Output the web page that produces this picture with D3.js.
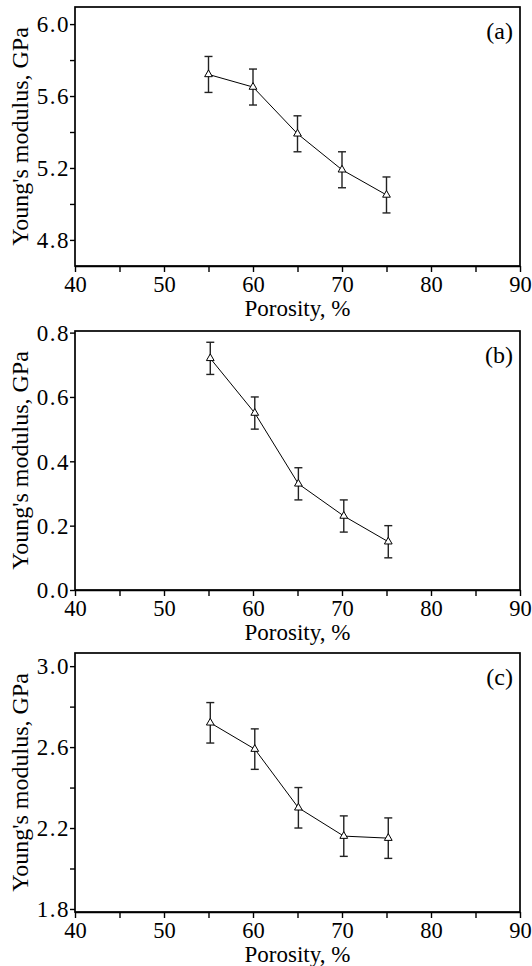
<!DOCTYPE html>
<html><head><meta charset="utf-8">
<script src="https://cdn.jsdelivr.net/npm/d3@7"></script>
<style>body{margin:0;background:#fff}svg{display:block}</style>
</head><body>
<svg id="c" width="532" height="966"></svg>
<script>
// ---- data ----
const porosity = [55, 60, 65, 70, 75];
const porosityB = [55.2, 60.2, 65.1, 70.2, 75.2];
const modulusA = [5.72, 5.65, 5.39, 5.19, 5.05];
const errorA = [0.10, 0.10, 0.10, 0.10, 0.10];
const modulusB = [0.72, 0.55, 0.33, 0.23, 0.15];
const errorB = [0.05, 0.05, 0.05, 0.05, 0.05];
const modulusC = [2.72, 2.59, 2.30, 2.16, 2.15];
const errorC = [0.10, 0.10, 0.10, 0.10, 0.10];
const xTicks = [40, 45, 50, 55, 60, 65, 70, 75, 80, 85, 90];
const xLabels = [40, 50, 60, 70, 80, 90];
const yTicksA = [4.8, 5.0, 5.2, 5.4, 5.6, 5.8, 6.0];
const yLabelsA = [4.8, 5.2, 5.6, 6.0];
const yTicksB = [0.0, 0.2, 0.4, 0.6, 0.8];
const yLabelsB = [0.0, 0.2, 0.4, 0.6, 0.8];
const yTicksC = [1.8, 2.0, 2.2, 2.4, 2.6, 2.8, 3.0];
const yLabelsC = [1.8, 2.2, 2.6, 3.0];
const panelNames = ["(a)", "(b)", "(c)"];

const panels = [
  {x: porosity, y: modulusA, e: errorA, dom: [4.655, 6.095], ticks: yTicksA, labels: yLabelsA, top: 7, name: panelNames[0]},
  {x: porosityB, y: modulusB, e: errorB, dom: [0, 0.805], ticks: yTicksB, labels: yLabelsB, top: 331, name: panelNames[1]},
  {x: porosityB, y: modulusC, e: errorC, dom: [1.785, 3.065], ticks: yTicksC, labels: yLabelsC, top: 653, name: panelNames[2]}
];

const svg = d3.select("#c");
const L = 75, R = 520, H = 259;
const FF = '"Liberation Serif"';
const x = d3.scaleLinear().domain([40, 90]).range([L, R]);

panels.forEach(p => {
  const T = p.top, B = T + H;
  const y = d3.scaleLinear().domain(p.dom).range([B, T]);
  const g = svg.append("g");

  // frame
  g.append("rect").attr("x", L).attr("y", T).attr("width", R - L).attr("height", H)
    .attr("fill", "none").attr("stroke", "#000").attr("stroke-width", 1.7);

  // x axis
  const xa = g.append("g").attr("transform", `translate(0,${B})`)
    .call(d3.axisBottom(x).tickValues(xTicks).tickSize(6).tickSizeOuter(0)
      .tickFormat(d => xLabels.includes(d) ? d : ""));
  xa.attr("font-family", null).attr("font-size", null);
  xa.select(".domain").attr("stroke-width", 1.7);
  xa.selectAll(".tick line").attr("stroke-width", 1.4);
  xa.selectAll("text").style("font-family", FF).style("font-size", "22.5px").style("fill", "#000")
    .attr("dy", "0.95em").attr("y", 5);

  // y axis
  const ya = g.append("g").attr("transform", `translate(${L},0)`)
    .call(d3.axisLeft(y).tickValues(p.ticks).tickSize(5).tickSizeOuter(0)
      .tickFormat(d => p.labels.some(v => Math.abs(v - d) < 1e-9) ? d3.format(".1f")(d) : ""));
  ya.attr("font-family", null).attr("font-size", null);
  ya.select(".domain").remove();
  ya.selectAll(".tick line").attr("stroke-width", 1.4);
  ya.selectAll("text").style("font-family", FF).style("font-size", "23px").style("fill", "#000")
    .style("letter-spacing", "1.5px").attr("x", -5).attr("dy", "0.34em");

  // axis titles
  g.append("text").attr("x", (L + R) / 2).attr("y", B + 50).attr("text-anchor", "middle")
    .style("font-family", FF).style("font-size", "23px").text("Porosity, %");
  g.append("text").attr("transform", `translate(28,${(T + B) / 2}) rotate(-90)`).attr("text-anchor", "middle")
    .style("font-family", FF).style("font-size", "24px").text("Young's modulus, GPa");

  // panel label
  g.append("text").attr("x", R - 7).attr("y", T + 32).attr("text-anchor", "end")
    .style("font-family", FF).style("font-size", "24px").text(p.name);

  const pts = p.x.map((v, i) => ({x: v, y: p.y[i], e: p.e[i]}));

  // error bars
  const eb = g.append("g").attr("stroke", "#222").attr("stroke-width", 1.4).attr("fill", "none");
  pts.forEach(d => {
    const cx = x(d.x), y1 = y(d.y + d.e), y0 = y(d.y - d.e);
    eb.append("line").attr("x1", cx).attr("x2", cx).attr("y1", y1).attr("y2", y0);
    eb.append("line").attr("x1", cx - 4).attr("x2", cx + 4).attr("y1", y1).attr("y2", y1);
    eb.append("line").attr("x1", cx - 4).attr("x2", cx + 4).attr("y1", y0).attr("y2", y0);
  });

  // line
  g.append("path").datum(pts).attr("fill", "none").attr("stroke", "#000").attr("stroke-width", 1)
    .attr("d", d3.line().x(d => x(d.x)).y(d => y(d.y)));

  // markers
  g.selectAll(".m").data(pts).enter().append("path")
    .attr("transform", d => `translate(${x(d.x)},${y(d.y)})`)
    .attr("d", d3.symbol().type(d3.symbolTriangle).size(26))
    .attr("fill", "#fff").attr("stroke", "#000").attr("stroke-width", 1);
});
</script>
</body></html>
